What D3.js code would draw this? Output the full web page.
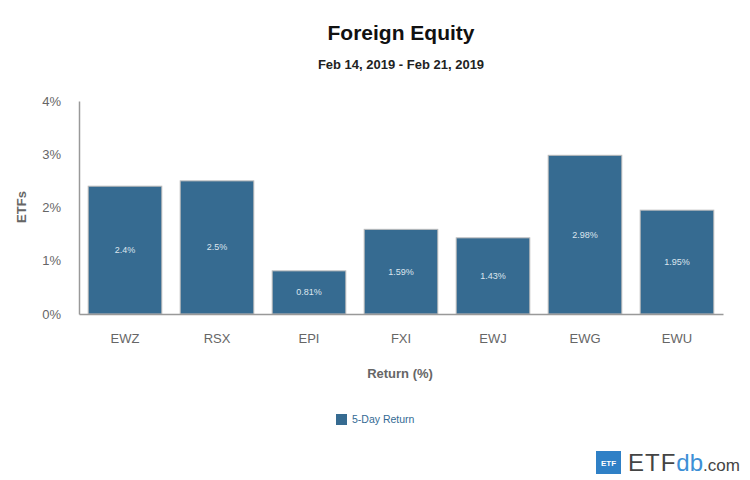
<!DOCTYPE html>
<html>
<head>
<meta charset="utf-8">
<script src="https://cdn.jsdelivr.net/npm/d3@7"></script>
<style>
body { margin: 0; background: #fff; }
svg { font-family: "Liberation Sans", Arial, sans-serif; }
</style>
</head>
<body>
<div id="chart"></div>
<script>
var tickers = ['EWZ', 'RSX', 'EPI', 'FXI', 'EWJ', 'EWG', 'EWU'];
var returns = [2.4, 2.5, 0.81, 1.59, 1.43, 2.98, 1.95];
var yTicks = [0, 1, 2, 3, 4];

var svg = d3.select('#chart').append('svg')
	.attr('width', 750).attr('height', 480);

var x = d3.scaleBand().domain(tickers).range([79, 723])
	.paddingInner(0.2).paddingOuter(0.1);
var y = d3.scaleLinear().domain([0, 4]).range([314, 101]);

// titles
svg.append('text').attr('x', 401).attr('y', 40).attr('text-anchor', 'middle')
	.attr('font-size', 21).attr('font-weight', 'bold').attr('fill', '#111').text('Foreign Equity');
svg.append('text').attr('x', 401).attr('y', 69).attr('text-anchor', 'middle')
	.attr('font-size', 13).attr('font-weight', 'bold').attr('fill', '#222').text('Feb 14, 2019 - Feb 21, 2019');

// y axis
var yAxis = svg.append('g').attr('transform', 'translate(79,0)')
	.call(d3.axisLeft(y).tickValues(yTicks).tickSize(0).tickPadding(18)
		.tickFormat(function (d) { return d + '%'; }));
yAxis.select('.domain').attr('stroke', '#999').attr('stroke-width', 1.5);
yAxis.selectAll('text').attr('font-size', 13).attr('fill', '#666')
	.attr('font-family', '"Liberation Sans", Arial, sans-serif');

// bars
svg.selectAll('rect.bar').data(returns).enter().append('rect')
	.attr('class', 'bar')
	.attr('x', function (d, i) { return x(tickers[i]); })
	.attr('y', function (d) { return y(d); })
	.attr('width', x.bandwidth())
	.attr('height', function (d) { return y(0) - y(d); })
	.attr('fill', '#366b91')
	.attr('stroke', '#bbb').attr('stroke-width', 1);

svg.selectAll('text.val').data(returns).enter().append('text')
	.attr('class', 'val')
	.attr('x', function (d, i) { return x(tickers[i]) + x.bandwidth() / 2; })
	.attr('y', function (d) { return (y(d) + y(0)) / 2 + 3; })
	.attr('text-anchor', 'middle').attr('font-size', 9).attr('fill', '#dde6ee')
	.text(function (d) { return d + '%'; });

// x axis
var xAxis = svg.append('g').attr('transform', 'translate(0,314)')
	.call(d3.axisBottom(x).tickSize(0).tickPadding(20));
xAxis.select('.domain').attr('stroke', '#999').attr('stroke-width', 1.5);
xAxis.selectAll('text').attr('font-size', 13).attr('fill', '#666')
	.attr('font-family', '"Liberation Sans", Arial, sans-serif');

// axis titles
svg.append('text').attr('x', 400).attr('y', 378).attr('text-anchor', 'middle')
	.attr('font-size', 13).attr('font-weight', 'bold').attr('fill', '#666').text('Return (%)');
svg.append('text').attr('transform', 'translate(26,207) rotate(-90)').attr('text-anchor', 'middle')
	.attr('font-size', 13).attr('font-weight', 'bold').attr('fill', '#666').text('ETFs');

// legend
svg.append('rect').attr('x', 336).attr('y', 414).attr('width', 11).attr('height', 11).attr('fill', '#366b91');
svg.append('text').attr('x', 352).attr('y', 423).attr('font-size', 10.5).attr('fill', '#336a94').text('5-Day Return');

// logo
var logo = svg.append('g');
logo.append('rect').attr('x', 596).attr('y', 451).attr('width', 25).attr('height', 23).attr('fill', '#2f80c6');
logo.append('text').attr('x', 608.5).attr('y', 466).attr('text-anchor', 'middle')
	.attr('font-size', 8).attr('font-weight', 'bold').attr('fill', '#fff').text('ETF');
var lt = logo.append('text').attr('x', 628).attr('y', 471).attr('font-size', 24).attr('fill', '#444');
lt.append('tspan').attr('letter-spacing', 1).text('ETF');
lt.append('tspan').attr('fill', '#3d8fd6').text('db');
lt.append('tspan').attr('font-size', 17).attr('fill', '#444').text('.com');
</script>
</body>
</html>
